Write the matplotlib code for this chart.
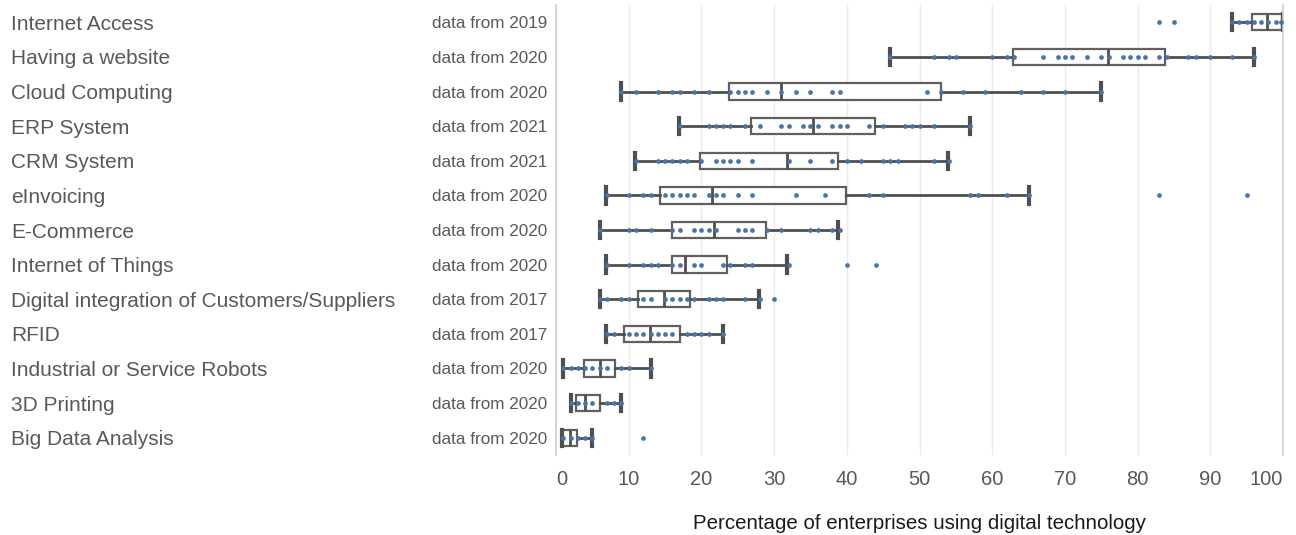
import matplotlib
matplotlib.use("Agg")
import matplotlib.pyplot as plt
from matplotlib.transforms import offset_copy

plt.rcParams['font.family'] = ['Liberation Sans', 'DejaVu Sans']

categories = ["Internet Access", "Having a website", "Cloud Computing", "ERP System",
              "CRM System", "eInvoicing", "E-Commerce", "Internet of Things",
              "Digital integration of Customers/Suppliers", "RFID",
              "Industrial or Service Robots", "3D Printing", "Big Data Analysis"]
data_years = ["2019", "2020", "2020", "2021", "2021", "2020", "2020", "2020",
              "2017", "2017", "2020", "2020", "2020"]

# box statistics
whisker_low = [93.0, 45.9, 9.0, 16.9, 10.9, 6.9, 6.0, 6.9, 6.0, 6.9, 0.9, 2.0, 0.8]
q1 = [95.8, 62.9, 23.8, 26.85, 19.8, 14.3, 16.0, 16.0, 11.3, 9.4, 3.9, 2.8, 0.85]
median = [97.8, 75.9, 31.0, 35.3, 31.8, 21.5, 21.8, 17.8, 14.9, 12.9, 6.0, 4.0, 1.9]
q3 = [99.8, 83.8, 52.9, 43.9, 38.8, 39.9, 28.9, 23.5, 18.4, 17.0, 8.1, 6.0, 2.9]
whisker_high = [100.0, 96.0, 74.9, 57.0, 53.9, 65.0, 38.8, 31.8, 27.9, 23.0, 13.0, 9.0, 5.0]

# individual country values (dots)
internet_access = [83, 85, 93, 94, 95, 96, 97, 98, 99, 99.7]
website = [46, 52, 54, 55, 60, 62, 63, 67, 69, 70, 71, 73, 75, 76, 78, 79, 80, 81, 83, 84, 87, 88, 90, 93, 96]
cloud = [9, 11, 14, 16, 17, 19, 21, 24, 25, 26, 27, 29, 31, 33, 35, 38, 39, 51, 53, 56, 59, 64, 67, 70, 75]
erp = [17, 21, 22, 23, 24, 26, 28, 31, 32, 34, 35, 36, 38, 39, 40, 43, 45, 48, 49, 50, 52, 57]
crm = [11, 14, 15, 16, 17, 18, 20, 22, 23, 24, 25, 27, 32, 35, 38, 40, 42, 45, 46, 47, 52, 54]
einvoicing = [7, 10, 12, 13, 15, 16, 17, 18, 19, 21, 22, 23, 25, 27, 33, 37, 43, 45, 57, 58, 62, 65, 83, 95]
ecommerce = [6, 10, 11, 13, 16, 17, 19, 20, 21, 22, 25, 26, 27, 29, 31, 35, 36, 38, 39]
iot = [7, 10, 12, 13, 14, 16, 17, 19, 20, 23, 24, 26, 27, 32, 40, 44]
digital_integration = [6, 7, 9, 10, 12, 13, 15, 16, 17, 18, 19, 21, 22, 23, 26, 28, 30]
rfid = [7, 8, 10, 11, 12, 13, 14, 15, 16, 18, 19, 20, 21, 23]
robots = [1, 2, 3, 4, 5, 6, 7, 9, 10, 13]
printing3d = [2, 3, 4, 5, 7, 8, 9]
big_data = [1, 2, 3, 4, 5, 12]

dots = [internet_access, website, cloud, erp, crm, einvoicing, ecommerce, iot,
        digital_integration, rfid, robots, printing3d, big_data]

x_ticks = [0, 10, 20, 30, 40, 50, 60, 70, 80, 90, 100]

TEXT = '#595959'
DOT = '#4a73a8'

fig = plt.figure(figsize=(12.96, 5.35), dpi=100)
ax = fig.add_axes([556/1296, 1-455/535, (1283-556)/1296, 450/535])

stats = []
for i, name in enumerate(categories):
    stats.append(dict(label=name, whislo=whisker_low[i], q1=q1[i], med=median[i],
                      q3=q3[i], whishi=whisker_high[i], fliers=[]))

positions = list(range(len(categories)))
ax.bxp(stats, positions=positions, orientation='horizontal', widths=0.47,
       capwidths=0.47, showfliers=False, patch_artist=True,
       boxprops=dict(facecolor='white', edgecolor='#606060', linewidth=1.6),
       whiskerprops=dict(color='#4f4f4f', linewidth=2.0),
       capprops=dict(color='#4f4f4f', linewidth=3.0),
       medianprops=dict(color='#4f4f4f', linewidth=2.0),
       manage_ticks=False, zorder=2)

for i, vals in enumerate(dots):
    ax.plot(vals, [positions[i]] * len(vals), 'o', color=DOT, markersize=3.4,
            markeredgewidth=0, zorder=4, clip_on=False)

ax.set_xlim(0, 100)
ax.set_ylim(len(categories) - 0.5, -0.5)
ax.set_xticks(x_ticks)
ax.set_xticklabels([str(t) for t in x_ticks])
ax.tick_params(axis='x', length=0, pad=11, labelsize=14.5, labelcolor=TEXT)
for lbl, t in zip(ax.get_xticklabels(), x_ticks):
    if t == 0:
        lbl.set_ha('left')
    elif t == 100:
        lbl.set_ha('right')
ax.set_yticks([])
ax.grid(axis='x', color='#ebebeb', linewidth=1.0, zorder=0)
ax.set_axisbelow(True)
for s in ['top', 'bottom']:
    ax.spines[s].set_visible(False)
for s in ['left', 'right']:
    ax.spines[s].set_color('#d0d0d0')
    ax.spines[s].set_linewidth(1.2)

fig.text((556 + 1283) / 2 / 1296, 1 - 529 / 535,
         'Percentage of enterprises using digital technology',
         ha='center', va='baseline', fontsize=14.8, color='#1a1a1a')

trans_cat = offset_copy(ax.get_yaxis_transform(), fig=fig, x=0, y=-7.5, units='dots')
trans_yr = offset_copy(ax.get_yaxis_transform(), fig=fig, x=0, y=-6.0, units='dots')
for i, (name, yr) in enumerate(zip(categories, data_years)):
    ax.text((11 - 556) / 727, positions[i], name, transform=trans_cat,
            ha='left', va='baseline', fontsize=15, color=TEXT)
    ax.text((547 - 556) / 727, positions[i], 'data from ' + yr, transform=trans_yr,
            ha='right', va='baseline', fontsize=12.3, color=TEXT)

fig.savefig('out.png', dpi=100)
